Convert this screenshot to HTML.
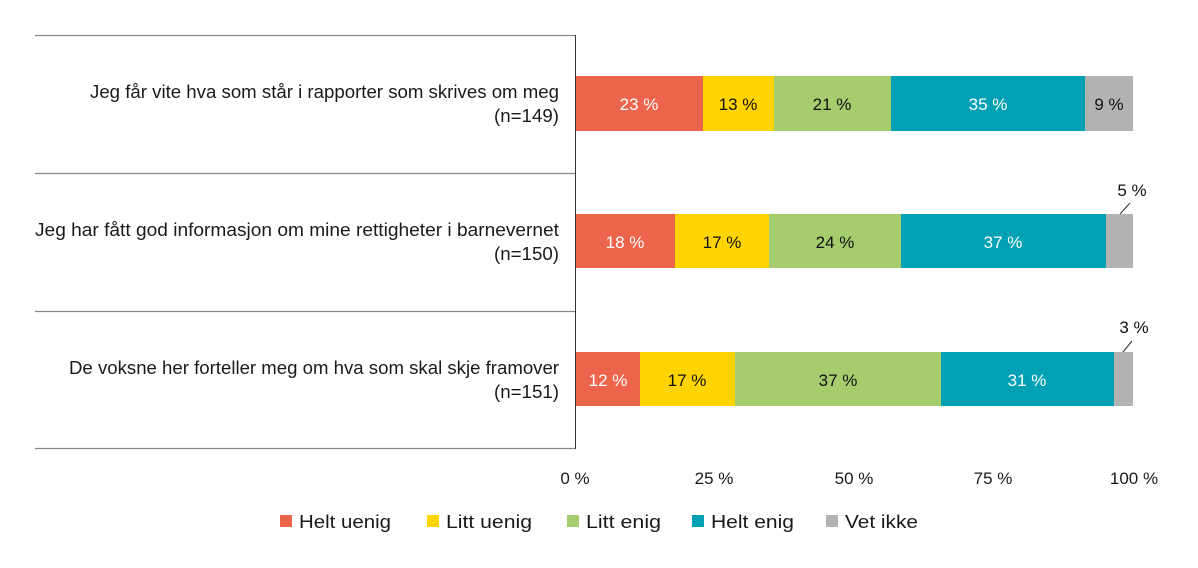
<!DOCTYPE html>
<html><head><meta charset="utf-8"><style>body{margin:0;background:#fff}svg{display:block}text{font-family:"Liberation Sans",sans-serif}</style></head><body>
<svg width="1198" height="568" viewBox="0 0 1198 568">
<g stroke="#888" stroke-width="1.2">
<line x1="35" y1="35.5" x2="575" y2="35.5"/><line x1="35" y1="173.5" x2="575" y2="173.5"/><line x1="35" y1="311.5" x2="575" y2="311.5"/><line x1="35" y1="448.5" x2="575" y2="448.5"/>
</g>
<line x1="575.5" y1="35" x2="575.5" y2="449" stroke="#333" stroke-width="1"/>
<g font-size="18" fill="#1a1a1a" text-anchor="end" lengthAdjust="spacingAndGlyphs">
<text x="559" y="98" textLength="469" lengthAdjust="spacingAndGlyphs">Jeg får vite hva som står i rapporter som skrives om meg</text><text x="559" y="122" textLength="65" lengthAdjust="spacingAndGlyphs">(n=149)</text>
<text x="559" y="236" textLength="524" lengthAdjust="spacingAndGlyphs">Jeg har fått god informasjon om mine rettigheter i barnevernet</text><text x="559" y="260" textLength="65" lengthAdjust="spacingAndGlyphs">(n=150)</text>
<text x="559" y="374" textLength="490" lengthAdjust="spacingAndGlyphs">De voksne her forteller meg om hva som skal skje framover</text><text x="559" y="398" textLength="65" lengthAdjust="spacingAndGlyphs">(n=151)</text>
</g>
<g>
<rect x="576" y="76" width="127" height="55" fill="#ec644b"/><rect x="703" y="76" width="71" height="55" fill="#ffd400"/><rect x="774" y="76" width="117" height="55" fill="#a5cd6d"/><rect x="891" y="76" width="194" height="55" fill="#00a0b5"/><rect x="1085" y="76" width="48" height="55" fill="#b3b3b3"/>
<rect x="576" y="214" width="99" height="54" fill="#ec644b"/><rect x="675" y="214" width="94" height="54" fill="#ffd400"/><rect x="769" y="214" width="132" height="54" fill="#a5cd6d"/><rect x="901" y="214" width="205" height="54" fill="#00a0b5"/><rect x="1106" y="214" width="27" height="54" fill="#b3b3b3"/>
<rect x="576" y="352" width="64" height="54" fill="#ec644b"/><rect x="640" y="352" width="95" height="54" fill="#ffd400"/><rect x="735" y="352" width="206" height="54" fill="#a5cd6d"/><rect x="941" y="352" width="173" height="54" fill="#00a0b5"/><rect x="1114" y="352" width="19" height="54" fill="#b3b3b3"/>
</g>
<g font-size="17" text-anchor="middle">
<text x="639" y="110" fill="#fff">23 %</text><text x="738" y="110" fill="#111">13 %</text><text x="832" y="110" fill="#111">21 %</text><text x="988" y="110" fill="#fff">35 %</text><text x="1109" y="110" fill="#111">9 %</text>
<text x="625" y="248" fill="#fff">18 %</text><text x="722" y="248" fill="#111">17 %</text><text x="835" y="248" fill="#111">24 %</text><text x="1003" y="248" fill="#fff">37 %</text>
<text x="608" y="386" fill="#fff">12 %</text><text x="687" y="386" fill="#111">17 %</text><text x="838" y="386" fill="#111">37 %</text><text x="1027" y="386" fill="#fff">31 %</text>
<text x="1132" y="196" fill="#111">5 %</text><text x="1134" y="333" fill="#111">3 %</text>
</g>
<line x1="1120" y1="214" x2="1130" y2="203" stroke="#333"/><line x1="1123" y1="352" x2="1132" y2="341" stroke="#333"/>
<g font-size="17" fill="#1a1a1a" text-anchor="middle">
<text x="575" y="484">0 %</text><text x="714" y="484">25 %</text><text x="854" y="484">50 %</text><text x="993" y="484">75 %</text><text x="1134" y="484">100 %</text>
</g>
<g font-size="18" fill="#1a1a1a">
<rect x="280" y="515" width="12" height="12" fill="#ec644b"/><text x="299" y="528" textLength="92" lengthAdjust="spacingAndGlyphs">Helt uenig</text>
<rect x="427" y="515" width="12" height="12" fill="#ffd400"/><text x="446" y="528" textLength="86" lengthAdjust="spacingAndGlyphs">Litt uenig</text>
<rect x="567" y="515" width="12" height="12" fill="#a5cd6d"/><text x="586" y="528" textLength="75" lengthAdjust="spacingAndGlyphs">Litt enig</text>
<rect x="692" y="515" width="12" height="12" fill="#00a0b5"/><text x="711" y="528" textLength="83" lengthAdjust="spacingAndGlyphs">Helt enig</text>
<rect x="826" y="515" width="12" height="12" fill="#b3b3b3"/><text x="845" y="528" textLength="73" lengthAdjust="spacingAndGlyphs">Vet ikke</text>
</g>
</svg>
</body></html>
